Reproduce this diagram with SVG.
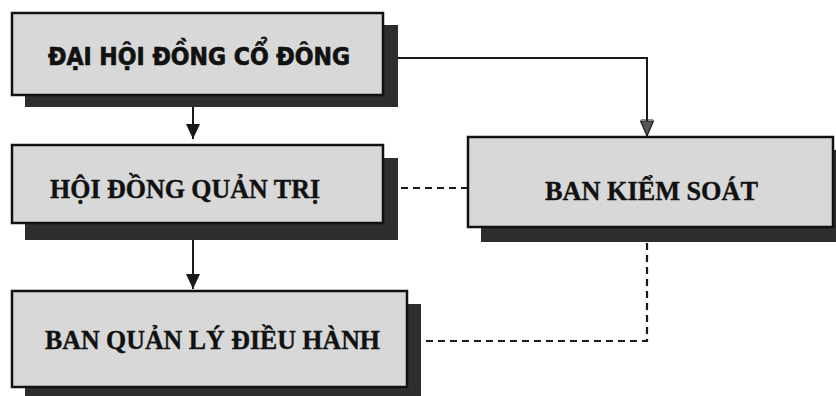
<svg xmlns="http://www.w3.org/2000/svg" width="836" height="396" viewBox="0 0 836 396">
<style>
.shadow{fill:#2e2e2e}
.box{fill:#d8d8d8;stroke:#111;stroke-width:2.5}
.t1{font-family:"DejaVu Sans",Verdana,sans-serif;font-weight:bold;font-size:24px;fill:#111;stroke:#111;stroke-width:0.7}
.t2{font-family:"Liberation Serif","Times New Roman",serif;font-weight:bold;font-size:28px;fill:#111;stroke:#111;stroke-width:0.4}
.line{fill:none;stroke:#1a1a1a;stroke-width:2}
.dash{fill:none;stroke:#1a1a1a;stroke-width:2.2;stroke-dasharray:7 5}
</style>
<defs>
<marker id="arr" markerUnits="userSpaceOnUse" markerWidth="16" markerHeight="14" refX="15" refY="7" orient="auto" viewBox="0 0 16 14">
<path d="M0,0 L15,7 L0,14 Z" fill="#1a1a1a"/>
</marker>
<marker id="arr2" markerUnits="userSpaceOnUse" markerWidth="18" markerHeight="14" refX="17" refY="7" orient="auto" viewBox="0 0 18 14">
<path d="M2,0.5 L17,7 L2,13.5 Z" fill="#555" stroke="#1a1a1a" stroke-width="1.2"/>
<path d="M0,1 L0,13" stroke="#1a1a1a" stroke-width="1"/>
</marker>
</defs>
<rect width="836" height="396" fill="#ffffff"/>
<g id="connectors">
<path class="line" d="M193,107 V139" marker-end="url(#arr)"/>
<path class="line" d="M193,240 V289" marker-end="url(#arr)"/>
<path class="line" d="M398,58 H647 V136" marker-end="url(#arr2)"/>
<path class="dash" d="M468,188 H399"/>
<path class="dash" d="M647,243 V341 H421"/>
</g>
<g id="dai-hoi-dong-co-dong">
<rect class="shadow" x="25" y="25" width="373" height="82"/>
<rect class="box" x="12" y="13" width="371" height="82"/>
<text class="t1" x="48" y="65" textLength="302" lengthAdjust="spacingAndGlyphs">ĐẠI HỘI ĐỒNG CỔ ĐÔNG</text>
</g>
<g id="hoi-dong-quan-tri">
<rect class="shadow" x="25" y="158" width="373" height="82"/>
<rect class="box" x="12" y="145" width="371" height="78"/>
<text class="t2" x="50" y="198" textLength="270" lengthAdjust="spacingAndGlyphs">HỘI ĐỒNG QUẢN TRỊ</text>
</g>
<g id="ban-quan-ly-dieu-hanh">
<rect class="shadow" x="25" y="304" width="396" height="100"/>
<rect class="box" x="12" y="291" width="395" height="96"/>
<text class="t2" x="45" y="349" textLength="335" lengthAdjust="spacingAndGlyphs">BAN QUẢN LÝ ĐIỀU HÀNH</text>
</g>
<g id="ban-kiem-soat">
<rect class="shadow" x="481" y="150" width="370" height="92"/>
<rect class="box" x="468" y="137" width="365" height="90"/>
<text class="t2" x="545" y="200" textLength="213" lengthAdjust="spacingAndGlyphs">BAN KIỂM SOÁT</text>
</g>
</svg>
